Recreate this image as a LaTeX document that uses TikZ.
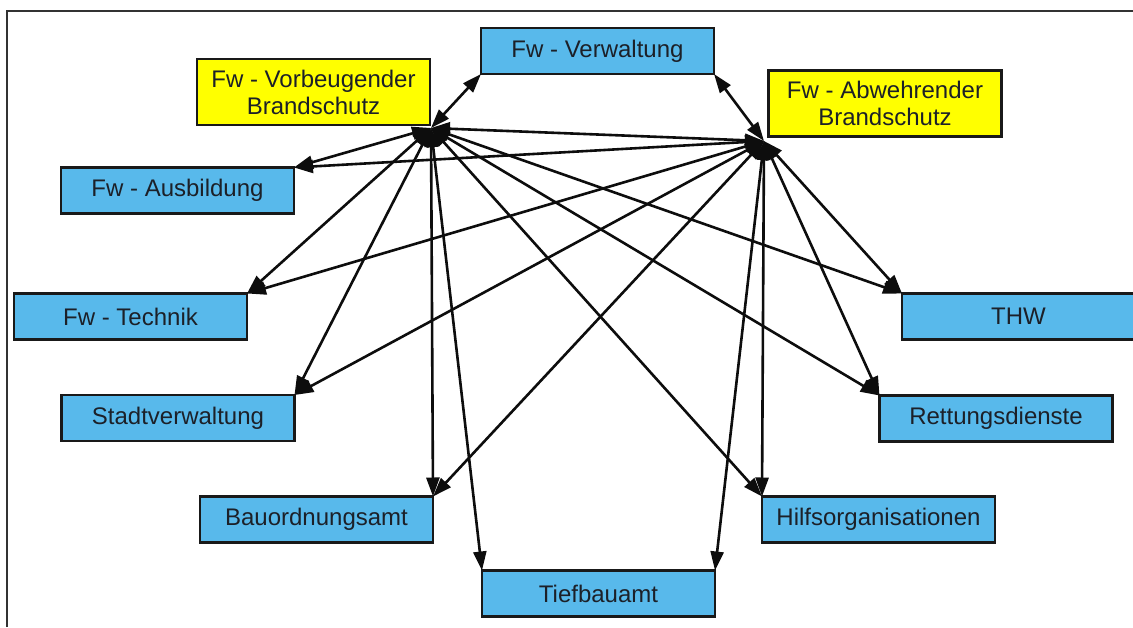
\documentclass[tikz,border=0pt]{standalone}
\usepackage{fontspec}
\setmainfont{Liberation Sans}
\usetikzlibrary{arrows.meta}
\definecolor{boxblue}{RGB}{88,185,235}
\definecolor{boxyellow}{RGB}{255,255,0}
\definecolor{txt}{RGB}{28,32,40}
\definecolor{framegray}{RGB}{50,50,50}
\tikzset{
  base/.style={draw=black!90, line width=2.5pt, inner sep=0pt, outer sep=0pt,
    text=txt, font=\fontsize{24}{27}\selectfont, align=center, minimum width=233pt},
  bluebox/.style={base, fill=boxblue, minimum height=46pt},
  yellowbox/.style={base, fill=boxyellow, minimum height=66pt},
  link/.style={line width=2.6pt, black!95, {Triangle[length=19pt,width=13pt]}-{Triangle[length=19pt,width=13pt]}}
}
\begin{document}
\begin{tikzpicture}[x=1pt,y=-1pt]
\useasboundingbox (0,0) rectangle (1133,627);
\fill[white] (0,0) rectangle (1133,627);
% frame
\draw[framegray, line width=2.5pt] (7,627) -- (7,11) -- (1133,11);
% boxes
\node[bluebox]   (verw)  at (597.5,51)   {Fw - Verwaltung};
\node[yellowbox] (vorb)  at (313.5,92)   {Fw - Vorbeugender\\Brandschutz};
\node[yellowbox] (abw)   at (885,103.5)  {Fw - Abwehrender\\Brandschutz};
\node[bluebox]   (ausb)  at (177.5,190.5){Fw - Ausbildung};
\node[bluebox]   (tech)  at (130.5,316.5){Fw - Technik};
\node[bluebox]   (stadt) at (178,418)    {Stadtverwaltung};
\node[bluebox]   (bau)   at (316.5,519.5){Bauordnungsamt};
\node[bluebox]   (tief)  at (598.5,593.5){Tiefbauamt};
\node[bluebox]   (thw)   at (1018.5,316.5){THW};
\node[bluebox]   (rett)  at (996,418.5)  {Rettungsdienste};
\node[bluebox]   (hilf)  at (878.5,519.5){Hilfsorganisationen};
% hubs
\coordinate (hv) at (431,128);
\coordinate (ha) at (764,141);
% connectors from Vorbeugender
\draw[link] (hv) -- (verw.south west);
\draw[link] (hv) -- (ha);
\draw[link] (hv) -- (ausb.north east);
\draw[link] (hv) -- (tech.north east);
\draw[link] (hv) -- (stadt.north east);
\draw[link] (hv) -- (bau.north east);
\draw[link] (hv) -- (tief.north west);
\draw[link] (hv) -- (hilf.north west);
\draw[link] (hv) -- (rett.north west);
\draw[link] (hv) -- (thw.north west);
% connectors from Abwehrender
\draw[link] (ha) -- (verw.south east);
\draw[link] (ha) -- (ausb.north east);
\draw[link] (ha) -- (tech.north east);
\draw[link] (ha) -- (stadt.north east);
\draw[link] (ha) -- (bau.north east);
\draw[link] (ha) -- (tief.north east);
\draw[link] (ha) -- (hilf.north west);
\draw[link] (ha) -- (rett.north west);
\draw[link] (ha) -- (thw.north west);
\end{tikzpicture}
\end{document}
